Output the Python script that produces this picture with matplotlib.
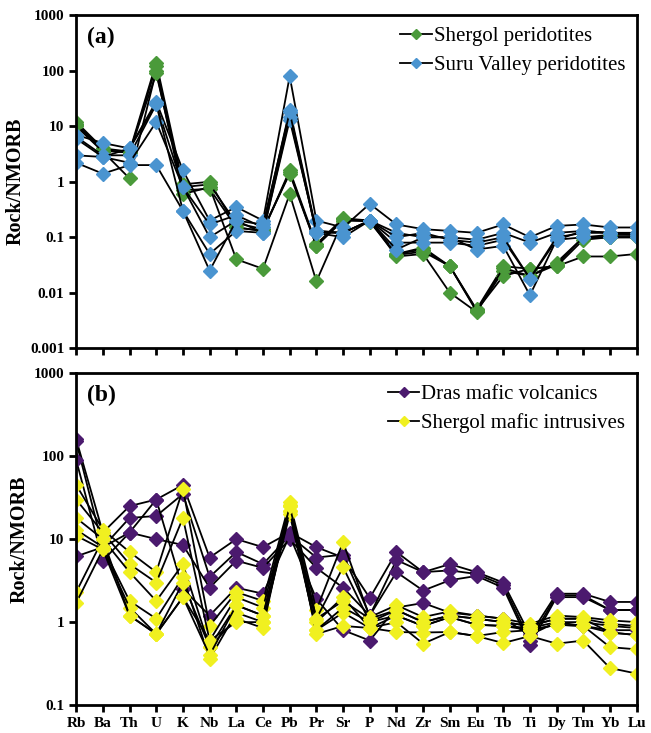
import matplotlib
matplotlib.use("Agg")
from matplotlib import pyplot as plt
from matplotlib.lines import Line2D

plt.rcParams['font.family'] = ['Liberation Serif', 'DejaVu Serif']

elements = ['Rb', 'Ba', 'Th', 'U', 'K', 'Nb', 'La', 'Ce', 'Pb', 'Pr', 'Sr',
            'P', 'Nd', 'Zr', 'Sm', 'Eu', 'Tb', 'Ti', 'Dy', 'Tm', 'Yb', 'Lu']

# (a) Shergol peridotites
shergol_perid = [
    [12, 4.0, 3.5, 140, 0.9, 1.0, 0.15, 0.13, 1.6, 0.075, 0.22, 0.2, 0.05, 0.06, 0.03, 0.005, 0.03, 0.027, 0.03, 0.045, 0.045, 0.05],
    [11, 3.8, 3.3, 120, 0.7, 0.75, 0.15, 0.13, 1.5, 0.07, 0.2, 0.2, 0.045, 0.05, 0.01, 0.0045, 0.025, 0.02, 0.035, 0.1, 0.11, 0.11],
    [10, 3.5, 1.15, 100, 0.6, 0.8, 0.04, 0.027, 0.6, 0.016, 0.2, 0.2, 0.05, 0.065, 0.03, 0.0048, 0.02, 0.027, 0.03, 0.09, 0.1, 0.1],
    [10.5, 3.6, 3.4, 90, 0.8, 0.9, 0.18, 0.14, 1.4, 0.07, 0.21, 0.19, 0.048, 0.055, 0.03, 0.0046, 0.028, 0.02, 0.032, 0.1, 0.1, 0.1],
]
# (a) Suru Valley peridotites
suru_perid = [
    [7, 5, 4, 28, 1.6, 0.2, 0.35, 0.2, 80, 0.2, 0.15, 0.4, 0.17, 0.14, 0.13, 0.12, 0.17, 0.1, 0.16, 0.17, 0.15, 0.15],
    [6.5, 3, 3, 25, 0.8, 0.17, 0.25, 0.15, 20, 0.13, 0.12, 0.2, 0.12, 0.1, 0.1, 0.09, 0.12, 0.08, 0.12, 0.13, 0.12, 0.12],
    [3, 2.8, 2.2, 12, 0.8, 0.1, 0.2, 0.12, 15, 0.12, 0.1, 0.2, 0.08, 0.08, 0.08, 0.07, 0.09, 0.018, 0.09, 0.1, 0.1, 0.1],
    [2.2, 1.4, 2, 2, 0.3, 0.05, 0.13, 0.12, 13, 0.13, 0.12, 0.2, 0.06, 0.1, 0.1, 0.06, 0.07, 0.009, 0.09, 0.13, 0.12, 0.11],
    [6, 2.8, 4, 25, 0.3, 0.025, 0.2, 0.17, 18, 0.12, 0.12, 0.2, 0.1, 0.12, 0.09, 0.08, 0.1, 0.018, 0.1, 0.12, 0.12, 0.12],
]
# (b) Dras mafic volcanics
dras_volc = [
    [160, 12, 25, 30, 45, 6, 10, 8, 12, 8, 6, 1.95, 7, 4, 5, 4, 3, 0.7, 2.2, 2.2, 1.75, 1.75],
    [150, 8, 18, 19, 35, 3.5, 7, 5, 11, 6, 6.5, 1.2, 5.6, 4, 4.2, 3.8, 2.8, 0.6, 2.1, 2.1, 1.4, 1.4],
    [90, 5.5, 12, 10, 8.5, 2.6, 5.5, 4.5, 10, 4.5, 2.6, 1.2, 4, 2.4, 3.2, 3.6, 2.6, 0.53, 2.0, 2.0, 1.4, 1.4],
    [6.2, 8, 12, 30, 2.5, 1.2, 2.6, 2.2, 11, 1.9, 0.8, 0.6, 1.5, 1.7, 1.3, 1.2, 1.1, 0.7, 1.0, 0.9, 0.8, 0.8],
]
# (b) Shergol mafic intrusives
shergol_maf = [
    [45, 13, 7, 4, 40, 0.9, 2.3, 1.8, 28, 1.4, 9.2, 1.15, 1.6, 1.15, 1.35, 1.2, 1.1, 0.95, 1.2, 1.15, 1.05, 1.0],
    [30, 12, 5, 3, 18, 0.6, 2.0, 1.5, 25, 1.1, 4.6, 1.0, 1.4, 1.0, 1.2, 1.1, 1.0, 0.9, 1.1, 1.1, 0.95, 0.9],
    [18, 10, 4, 1.8, 5, 0.5, 1.6, 1.2, 22, 1.0, 2.0, 0.85, 1.2, 0.9, 1.15, 0.93, 0.9, 0.8, 0.93, 0.9, 0.75, 0.7],
    [13, 8, 1.8, 1.1, 3.5, 0.36, 1.3, 1.0, 20, 0.8, 1.3, 0.85, 0.76, 0.75, 0.76, 0.68, 0.56, 0.68, 0.55, 0.6, 0.28, 0.24],
    [11, 7.5, 1.5, 0.72, 3, 0.5, 1.1, 0.85, 26, 0.72, 0.9, 0.85, 1.0, 0.55, 0.76, 0.68, 0.76, 0.8, 0.93, 0.9, 0.5, 0.47],
    [2.3, 10, 1.2, 0.72, 2, 0.6, 1.0, 1.0, 22, 0.8, 1.5, 1.0, 1.2, 0.9, 1.15, 0.93, 0.9, 0.85, 1.0, 1.0, 0.9, 0.85],
    [1.7, 7.5, 1.2, 0.72, 2, 0.4, 1.6, 1.2, 25, 1.1, 1.8, 1.1, 1.4, 1.0, 1.2, 1.1, 1.0, 0.9, 1.1, 1.1, 0.75, 0.7],
]

green = '#4a9a3a'
blue = '#4a94d0'
purple = '#4b1a6e'
yellow = '#f0f020'

x = list(range(len(elements)))

fig = plt.figure(figsize=(6.51, 7.33), dpi=100)
ax1 = fig.add_axes([0.117, 0.525, 0.861, 0.454])
ax2 = fig.add_axes([0.117, 0.038, 0.861, 0.453])


def draw(ax, groups):
    for rows, col in groups:
        for r in rows:
            ax.plot(x, r, color='black', lw=1.3, marker='D', ms=7,
                    mfc=col, mec=col, zorder=2)


draw(ax1, [(shergol_perid, green), (suru_perid, blue)])
draw(ax2, [(dras_volc, purple), (shergol_maf, yellow)])

for ax in (ax1, ax2):
    ax.set_yscale('log')
    ax.set_xlim(0, len(elements) - 1)
    ax.set_xticks(x)
    ax.minorticks_off()
    for s in ax.spines.values():
        s.set_linewidth(2)
    ax.tick_params(axis='both', direction='out', width=2, length=5)
    ax.set_ylabel('Rock/NMORB', fontsize=14.5, fontweight='bold', labelpad=3)

ax1.set_ylim(0.001, 1000)
ax1.set_yticks([0.001, 0.01, 0.1, 1, 10, 100, 1000])
ax1.set_yticklabels(['0.001', '0.01', '0.1', '1', '10', '100', '1000'],
                    fontsize=11, fontweight='bold')
ax1.set_xticklabels([])

ax2.set_ylim(0.1, 1000)
ax2.set_yticks([0.1, 1, 10, 100, 1000])
ax2.set_yticklabels(['0.1', '1', '10', '100', '1000'], fontsize=11, fontweight='bold')
ax2.set_xticklabels(elements, fontsize=11, fontweight='bold')

ax1.text(0.02, 0.965, '(a)', transform=ax1.transAxes, fontsize=17,
         fontweight='bold', va='top')
ax2.text(0.02, 0.965, '(b)', transform=ax2.transAxes, fontsize=17,
         fontweight='bold', va='top')


def handles(cols):
    return [Line2D([], [], color='black', lw=1.3, marker='D', ms=5.5, mfc=c, mec=c)
            for c in cols]


ax1.legend(handles([green, blue]), ['Shergol peridotites', 'Suru Valley peridotites'],
           loc='upper right', frameon=False, fontsize=15, handlelength=1.5,
           handletextpad=0.1, borderaxespad=0.15, labelspacing=0.45)
ax2.legend(handles([purple, yellow]), ['Dras mafic volcanics', 'Shergol mafic intrusives'],
           loc='upper right', frameon=False, fontsize=15, handlelength=1.5,
           handletextpad=0.1, borderaxespad=0.15, labelspacing=0.45)

fig.savefig('out.png', dpi=100)
